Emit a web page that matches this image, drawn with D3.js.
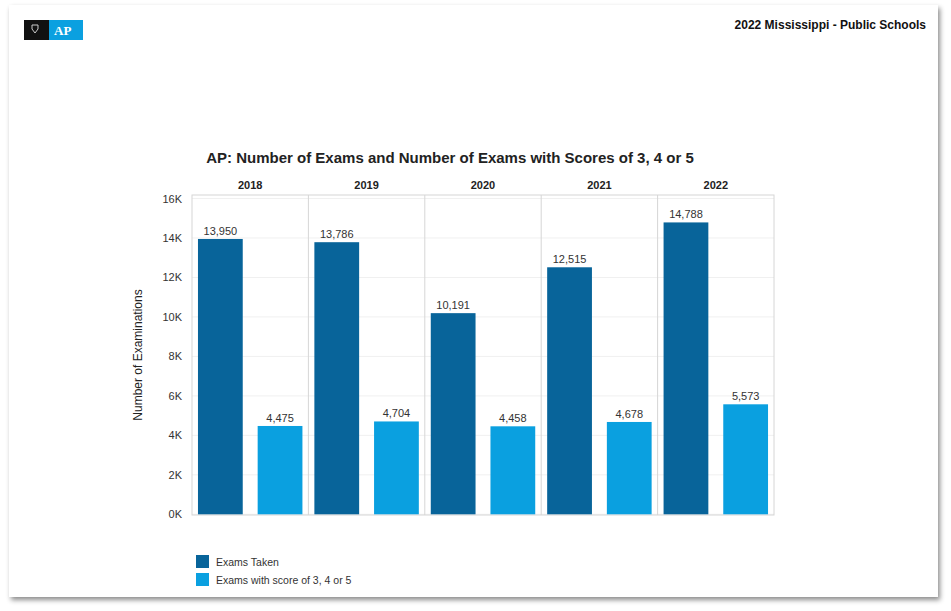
<!DOCTYPE html>
<html><head><meta charset="utf-8">
<script src="https://cdn.jsdelivr.net/npm/d3@7"></script>
<style>
body{margin:0;background:#fff;font-family:"Liberation Sans",Arial,sans-serif;}
</style></head>
<body><svg width="951" height="611"></svg>
<script>
var years = ["2018", "2019", "2020", "2021", "2022"],
    series = ["Exams Taken", "Exams with score of 3, 4 or 5"],
    taken = [13950, 13786, 10191, 12515, 14788],
    scored = [4475, 4704, 4458, 4678, 5573],
    yTicks = [0, 2000, 4000, 6000, 8000, 10000, 12000, 14000, 16000],
    colors = ["#08649a", "#0aa0e0"];

var svg = d3.select("svg");
var defs = svg.append("defs");
var f = defs.append("filter").attr("id", "sh").attr("x", "-5%").attr("y", "-5%").attr("width", "110%").attr("height", "110%");
f.append("feDropShadow").attr("dx", 2).attr("dy", 3).attr("stdDeviation", 2.5).attr("flood-color", "#000").attr("flood-opacity", 0.45);

svg.append("rect").attr("x", 9).attr("y", 5).attr("width", 929).attr("height", 592)
    .attr("fill", "#fff").attr("filter", "url(#sh)");

// logo
svg.append("rect").attr("x", 24).attr("y", 20).attr("width", 25).attr("height", 20).attr("fill", "#111");
svg.append("rect").attr("x", 49).attr("y", 20).attr("width", 34).attr("height", 20).attr("fill", "#0aa0e0");
svg.append("text").attr("x", 54).attr("y", 35).attr("fill", "#fff").attr("font-size", 13)
    .attr("font-weight", "bold").attr("font-family", "Liberation Serif,serif").text("AP");
svg.append("path").attr("d", "M32,25 h6 v4 l-3,4 l-3,-4 z").attr("fill", "none").attr("stroke", "#ccc").attr("stroke-width", 1);

svg.append("text").attr("x", 926).attr("y", 29).attr("text-anchor", "end")
    .attr("font-size", 12).attr("font-weight", "bold").attr("fill", "#111").text("2022 Mississippi - Public Schools");

svg.append("text").attr("x", 450).attr("y", 163).attr("text-anchor", "middle")
    .attr("font-size", 15).attr("font-weight", "bold").attr("fill", "#222")
    .text("AP: Number of Exams and Number of Exams with Scores of 3, 4 or 5");

var pLeft = 192, pRight = 774, pTop = 195, pBottom = 515;
var x = d3.scaleBand().domain(years).range([pLeft, pRight]);
var y = d3.scaleLinear().domain([0, 16000]).range([514.3, 198.5]);

// gridlines
svg.append("g").selectAll("line").data(yTicks).join("line")
    .attr("x1", pLeft).attr("x2", pRight).attr("y1", function (d) { return y(d); }).attr("y2", function (d) { return y(d); })
    .attr("stroke", "#f0f0f0");

svg.append("rect").attr("x", pLeft).attr("y", pTop).attr("width", pRight - pLeft).attr("height", pBottom - pTop)
    .attr("fill", "none").attr("stroke", "#d6d6d6");
svg.append("g").selectAll("line").data(years.slice(1)).join("line")
    .attr("x1", function (d) { return x(d); }).attr("x2", function (d) { return x(d); })
    .attr("y1", pTop).attr("y2", pBottom).attr("stroke", "#d6d6d6");

svg.append("g").selectAll("text").data(years).join("text")
    .attr("x", function (d) { return x(d) + x.bandwidth() / 2; }).attr("y", 189)
    .attr("text-anchor", "middle").attr("font-size", 11).attr("font-weight", "bold").attr("fill", "#222")
    .text(function (d) { return d; });

var yAxis = svg.append("g").attr("transform", "translate(" + (pLeft - 7) + ",0)")
    .call(d3.axisLeft(y).tickValues(yTicks).tickSize(0).tickFormat(function (d) { return (d / 1000) + "K"; }));
yAxis.select(".domain").remove();
yAxis.selectAll("text").attr("font-size", 11).attr("fill", "#333").attr("font-family", "Liberation Sans,Arial,sans-serif");

svg.append("text").attr("transform", "translate(142,355) rotate(-90)").attr("text-anchor", "middle")
    .attr("font-size", 12).attr("fill", "#222").text("Number of Examinations");

var inner = d3.scaleBand().domain([0, 1]).range([0, x.bandwidth()]).paddingInner(0.25).paddingOuter(0.1);
var rows = [];
years.forEach(function (yr, i) {
    rows.push({ yr: yr, s: 0, v: taken[i] });
    rows.push({ yr: yr, s: 1, v: scored[i] });
});
var fmt = d3.format(",");
svg.append("g").selectAll("rect").data(rows).join("rect")
    .attr("x", function (d) { return x(d.yr) + inner(d.s); }).attr("width", inner.bandwidth())
    .attr("y", function (d) { return y(d.v); }).attr("height", function (d) { return y(0) - y(d.v); })
    .attr("fill", function (d) { return colors[d.s]; });
svg.append("g").selectAll("text").data(rows).join("text")
    .attr("x", function (d) { return x(d.yr) + inner(d.s) + inner.bandwidth() / 2; })
    .attr("y", function (d) { return y(d.v) - 4; })
    .attr("text-anchor", "middle").attr("font-size", 11).attr("fill", "#333")
    .text(function (d) { return fmt(d.v); });

var lg = svg.append("g").selectAll("g").data(series).join("g")
    .attr("transform", function (d, i) { return "translate(196," + (555 + i * 18) + ")"; });
lg.append("rect").attr("width", 13).attr("height", 13).attr("fill", function (d, i) { return colors[i]; });
lg.append("text").attr("x", 20).attr("y", 11).attr("font-size", 10.5).attr("fill", "#333")
    .text(function (d) { return d; });
</script></body></html>
